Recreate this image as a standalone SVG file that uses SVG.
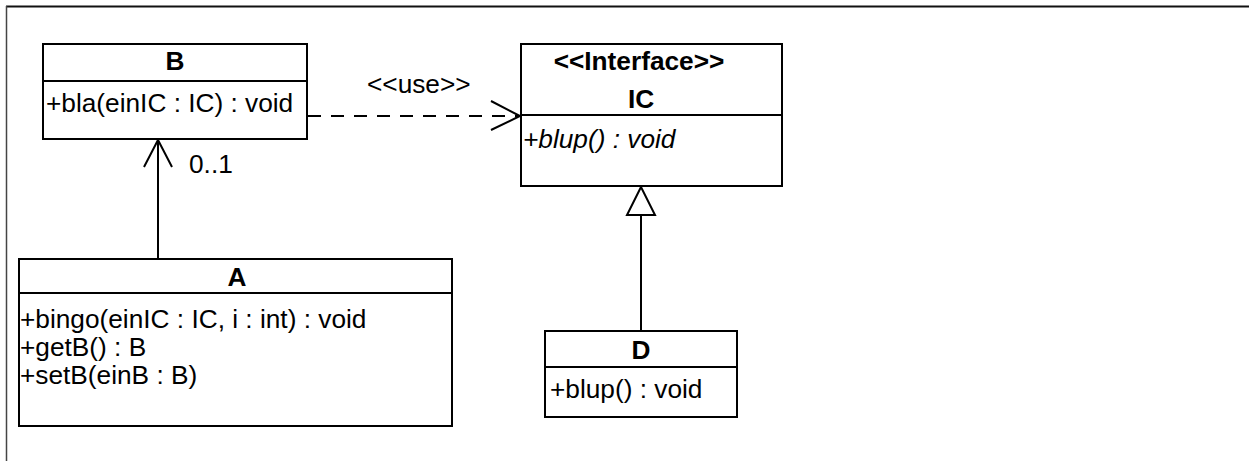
<svg xmlns="http://www.w3.org/2000/svg" width="1249" height="461" viewBox="0 0 1249 461">
<style>
  .box { fill: #ffffff; stroke: #000000; stroke-width: 2; }
  .sep { stroke: #000000; stroke-width: 2; }
  .t { font-family: "Liberation Sans", Arial, sans-serif; font-size: 25px; fill: #000000; }
  .b { font-weight: bold; text-anchor: middle; }
  .i { font-style: italic; }
  .line { fill: none; stroke: #000000; stroke-width: 2; }
  .dash { stroke-dasharray: 13 10; }
</style>
<rect x="0" y="0" width="1249" height="461" fill="#ffffff"/>
<g id="frame">
  <line x1="6" y1="6.5" x2="1249" y2="6.5" stroke="#111111" stroke-width="2"/>
  <line x1="6.5" y1="6" x2="6.5" y2="461" stroke="#444444" stroke-width="1.5"/>
</g>
<g id="connectors">
  <line class="line" x1="158" y1="259" x2="158" y2="140"/>
  <polyline class="line" points="144,167 158,140 172,167"/>
  <text class="t" transform="translate(189,173) scale(1.05,1)">0..1</text>
  <line class="line dash" x1="308" y1="116" x2="519" y2="116"/>
  <polyline class="line" points="491,101 520,116 491,130"/>
  <text class="t" transform="translate(367,93) scale(1.05,1)">&lt;&lt;use&gt;&gt;</text>
  <line class="line" x1="641" y1="331" x2="641" y2="215"/>
  <polygon points="641,187 627,215 655,215" fill="#ffffff" stroke="#000000" stroke-width="2"/>
</g>
<g id="B">
  <rect class="box" x="43" y="44" width="264" height="95"/>
  <line class="sep" x1="43" y1="81" x2="307" y2="81"/>
  <text class="t b" transform="translate(175,70) scale(1.05,1)">B</text>
  <text class="t" transform="translate(46,112) scale(1.05,1)">+bla(einIC : IC) : void</text>
</g>
<g id="IC">
  <rect class="box" x="521" y="44" width="261" height="142"/>
  <line class="sep" x1="521" y1="115" x2="782" y2="115"/>
  <text class="t b" transform="translate(639,70) scale(1.05,1)">&lt;&lt;Interface&gt;&gt;</text>
  <text class="t b" transform="translate(641,108) scale(1.05,1)">IC</text>
  <text class="t i" transform="translate(523,148) scale(1.05,1)">+blup() : void</text>
</g>
<g id="A">
  <rect class="box" x="19" y="259" width="433" height="167"/>
  <line class="sep" x1="19" y1="293" x2="452" y2="293"/>
  <text class="t b" transform="translate(237,286) scale(1.05,1)">A</text>
  <text class="t" transform="translate(20,328) scale(1.05,1)">+bingo(einIC : IC, i : int) : void</text>
  <text class="t" transform="translate(20,356) scale(1.05,1)">+getB() : B</text>
  <text class="t" transform="translate(20,384) scale(1.05,1)">+setB(einB : B)</text>
</g>
<g id="D">
  <rect class="box" x="545" y="331" width="192" height="86"/>
  <line class="sep" x1="545" y1="367" x2="737" y2="367"/>
  <text class="t b" transform="translate(641,359) scale(1.05,1)">D</text>
  <text class="t" transform="translate(550,398) scale(1.05,1)">+blup() : void</text>
</g>
</svg>
